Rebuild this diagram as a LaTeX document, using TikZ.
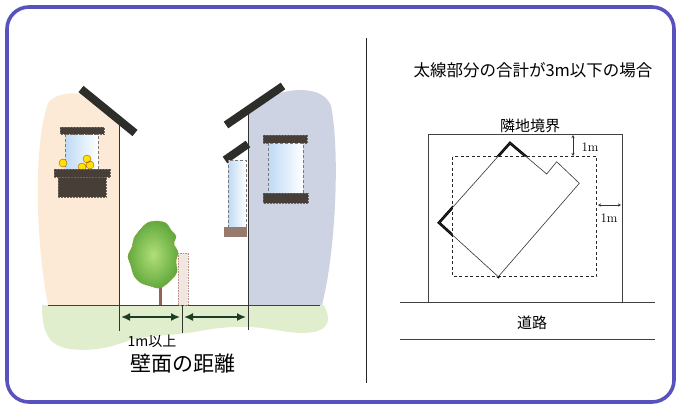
\documentclass[tikz,border=0pt]{standalone}
\usepackage{fontspec}
\usepackage{tikz}
\usetikzlibrary{arrows.meta}
\newfontfamily\jp{Noto Sans CJK JP}

\definecolor{framecol}{RGB}{88,82,190}
\definecolor{peach}{RGB}{252,234,214}
\definecolor{stone}{RGB}{205,211,226}
\definecolor{lawn}{RGB}{224,238,206}
\definecolor{roofcol}{RGB}{45,45,42}
\definecolor{woodcol}{RGB}{72,62,56}
\definecolor{sillcol}{RGB}{150,122,110}
\definecolor{glass}{RGB}{190,218,245}
\definecolor{leafin}{RGB}{178,222,120}
\definecolor{leafout}{RGB}{98,170,62}
\definecolor{trunkcol}{RGB}{150,98,88}
\definecolor{postcol}{RGB}{242,230,224}
\definecolor{dimcol}{RGB}{28,62,34}

\tikzset{
  roofbar/.style={roofcol, line width=8pt},
  woodbar/.style={fill=woodcol, draw=woodcol!80!white, densely dotted, line width=0.5pt},
  pane/.style={left color=glass, right color=white, draw=woodcol!70, densely dashed, line width=0.5pt},
  wallline/.style={black!80, line width=0.8pt},
  dimline/.style={dimcol, line width=1.6pt, {Latex[length=9pt,width=8pt]}-{Latex[length=9pt,width=8pt]}},
  gap/.style={black!80, line width=0.5pt, {Stealth[length=3pt,width=3pt]}-{Stealth[length=3pt,width=3pt]}},
  plotline/.style={black!75, line width=0.7pt}
}

\begin{document}
\begin{tikzpicture}[x=1pt, y=-1pt]
    \useasboundingbox (0,0) rectangle (680,408);
    \fill[white] (0,0) rectangle (680,408);
    \draw [framecol, line width=3.6pt, rounded corners=22pt] (7,7) rectangle (674,402);
    \draw [black!85, line width=0.8pt] (366,38) -- (366,383);

    % ground and walls
    \fill [lawn] (42,305) -- (324,305) .. controls (330,318) and (330,326) .. (318,331)
        .. controls (300,336) and (280,330) .. (262,328) .. controls (240,325) and (215,328) .. (200,331)
        .. controls (180,335) and (150,335) .. (130,340) .. controls (115,346) and (95,352) .. (70,349)
        .. controls (50,346) and (42,335) .. (42,305) -- cycle;
    \fill [peach] (119,305) -- (48,305) .. controls (37,250) and (32,150) .. (48,103)
        .. controls (55,93) and (75,91) .. (92,96) -- (119,122) -- cycle;
    \fill [stone] (249,305) -- (249,110) -- (272,96) .. controls (295,86) and (325,88) .. (331,106)
        .. controls (340,150) and (336,250) .. (322,305) -- cycle;
    \draw [woodcol, line width=0.9pt] (48,305) -- (320,305);
    \draw [wallline] (119,122) -- (119,305);
    \draw [wallline] (248,110) -- (248,305);

    % left house
    \draw [roofbar] (81,89) -- (135,133);
    \shade [pane] (65,134) rectangle (98,170);
    \draw [woodbar] (60,127) rectangle (104,134);
    \fill [yellow!85!orange, draw=orange!70!black, line width=0.4pt] (63,163) circle (4) (82,167) circle (4)
        (87,159) circle (4) (90,165) circle (4);
    \draw [woodbar] (54,169) rectangle (110,177);
    \draw [woodbar] (58,177) rectangle (106,197);

    % right house
    \draw [roofbar] (226,125) -- (283,86);
    \draw [roofbar] (225,160) -- (248,144);
    \shade [pane] (228,160) rectangle (246,227);
    \fill [sillcol] (224,227) rectangle (247,237);
    \draw [woodbar] (263,135) rectangle (307,143);
    \shade [pane] (268,143) rectangle (303,193);
    \draw [woodbar] (263,193) rectangle (308,203);

    % tree and post
    \draw [trunkcol, line width=3pt] (160,284) -- (160,305);
    \shade [inner color=leafin, outer color=leafout, draw=olive!70!brown, densely dotted, line width=0.6pt]
        plot [smooth cycle, tension=0.6] coordinates {(157,221) (166,223) (171,230) (176,236) (174,244)
        (178,252) (176,262) (177,272) (170,281) (160,288) (150,286) (141,283) (134,276) (131,266)
        (128,256) (132,247) (134,238) (140,230) (147,223)};
    \draw [fill=postcol, draw=trunkcol!70, densely dotted, line width=0.6pt] (178,253) rectangle (188,305);

    % wall distance
    \draw [wallline] (119,305) -- (119,331);
    \draw [wallline] (182,305) -- (182,333);
    \draw [wallline] (248,305) -- (248,330);
    \coordinate (dimA) at (121,317);
    \coordinate (dimB) at (180,317);
    \coordinate (dimC) at (184,317);
    \coordinate (dimD) at (246,317);
    \draw [dimline] (dimA) -- (dimB);
    \draw [dimline] (dimC) -- (dimD);
    \node (minGap) at (152,341) {\jp\fontsize{14}{14}\selectfont 1m以上};
    \node (wallDist) at (183,364) {\jp\fontsize{21}{21}\selectfont 壁面の距離};

    % site plan
    \node (title) at (533,70) {\jp\fontsize{16.5}{16.5}\selectfont 太線部分の合計が3m以下の場合};
    \node (boundary) at (530,126) {\jp\fontsize{15}{15}\selectfont 隣地境界};
    \node (road) at (532,323) {\jp\fontsize{15}{15}\selectfont 道路};
    \draw [plotline] (428,302) -- (428,134) -- (622,134) -- (622,302);
    \draw [plotline] (400,302) -- (655,302);
    \draw [plotline] (400,339) -- (655,339);
    \draw [black!85, dashed, line width=0.7pt, dash pattern=on 3pt off 2.5pt] (452.7,156.7) rectangle (596.7,276.7);

    \coordinate (btop) at (510,143);
    \coordinate (bnotchA) at (546.7,174);
    \coordinate (bnotchB) at (556.7,161.7);
    \coordinate (bright) at (579.3,183.3);
    \coordinate (bbot) at (498.3,276.7);
    \coordinate (bleft) at (439,222.7);
    \begin{scope}[even odd rule]
        \clip (428,134) rectangle (622,302) (452.7,156.7) rectangle (596.7,276.7);
        \draw [black, line width=2.6pt, line join=miter] (btop) -- (bnotchA) -- (bnotchB) -- (bright)
            -- (bbot) -- (bleft) -- cycle;
    \end{scope}
    \draw [black!80, line width=0.6pt] (btop) -- (bnotchA) -- (bnotchB) -- (bright) -- (bbot) -- (bleft) -- cycle;

    \coordinate (gapT1) at (573,135);
    \coordinate (gapT2) at (573,156);
    \coordinate (gapS1) at (598,205);
    \coordinate (gapS2) at (621,205);
    \draw [gap] (gapT1) -- (gapT2);
    \draw [gap] (gapS1) -- (gapS2);
    \node (gapTop) at (590,147) {\fontsize{13}{13}\selectfont 1m};
    \node (gapSide) at (609,218) {\fontsize{13}{13}\selectfont 1m};
\end{tikzpicture}
\end{document}
